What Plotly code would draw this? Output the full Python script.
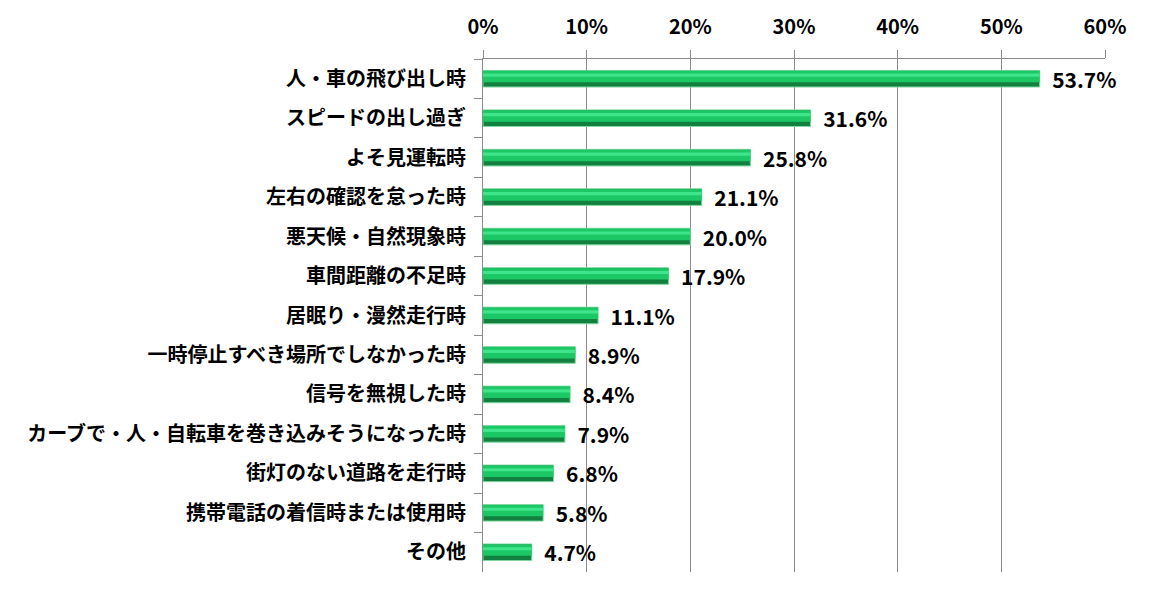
import plotly.graph_objects as go

categories = [
    "人・車の飛び出し時",
    "スピードの出し過ぎ",
    "よそ見運転時",
    "左右の確認を怠った時",
    "悪天候・自然現象時",
    "車間距離の不足時",
    "居眠り・漫然走行時",
    "一時停止すべき場所でしなかった時",
    "信号を無視した時",
    "カーブで・人・自転車を巻き込みそうになった時",
    "街灯のない道路を走行時",
    "携帯電話の着信時または使用時",
    "その他",
]
values = [53.7, 31.6, 25.8, 21.1, 20.0, 17.9, 11.1, 8.9, 8.4, 7.9, 6.8, 5.8, 4.7]
labels = [f"\u00a0\u00a0{v:.1f}%" for v in values]

FONT = "Noto Sans CJK JP"

fig = go.Figure()
# base bar (dark lower part, pale outline)
fig.add_trace(go.Bar(
    y=categories, x=values, orientation="h", width=0.42,
    marker=dict(color="#12803f", line=dict(color="#7fd9a0", width=1)),
    text=labels, textposition="outside", cliponaxis=False, constraintext="none",
    textfont=dict(family=FONT, size=21, color="#000000", weight="bold"),
    hoverinfo="skip", showlegend=False,
))
# bright green upper part
fig.add_trace(go.Bar(
    y=categories, x=values, orientation="h", width=0.29, offset=-0.20,
    marker=dict(color="#1cc865", line=dict(width=0)),
    hoverinfo="skip", showlegend=False,
))
# highlight
fig.add_trace(go.Bar(
    y=categories, x=values, orientation="h", width=0.08, offset=-0.13,
    marker=dict(color="#3fe58a", line=dict(width=0)),
    hoverinfo="skip", showlegend=False,
))

fig.update_layout(
    width=1142, height=588,
    margin=dict(l=475, r=45, t=51, b=24, autoexpand=False),
    paper_bgcolor="white", plot_bgcolor="white",
    barmode="overlay",
    font=dict(family=FONT, color="#000000"),
    xaxis=dict(
        side="top", range=[0, 60], dtick=10, ticksuffix="%",
        showgrid=True, gridcolor="#8c8c8c", gridwidth=1,
        showline=True, linecolor="#8c8c8c", linewidth=1,
        ticks="outside", ticklen=8, tickcolor="#8c8c8c",
        ticklabelstandoff=8,
        tickfont=dict(family=FONT, size=20, color="#000000", weight="bold"),
        zeroline=False, fixedrange=True,
    ),
    yaxis=dict(
        autorange="reversed", type="category",
        showline=True, linecolor="#8c8c8c", linewidth=1,
        ticks="outside", ticklen=8, tickcolor="#8c8c8c", tickson="boundaries",
        ticklabelstandoff=12,
        tickfont=dict(family=FONT, size=20, color="#000000", weight="bold"),
        showgrid=False, fixedrange=True,
    ),
)

fig.write_html("out.html")
